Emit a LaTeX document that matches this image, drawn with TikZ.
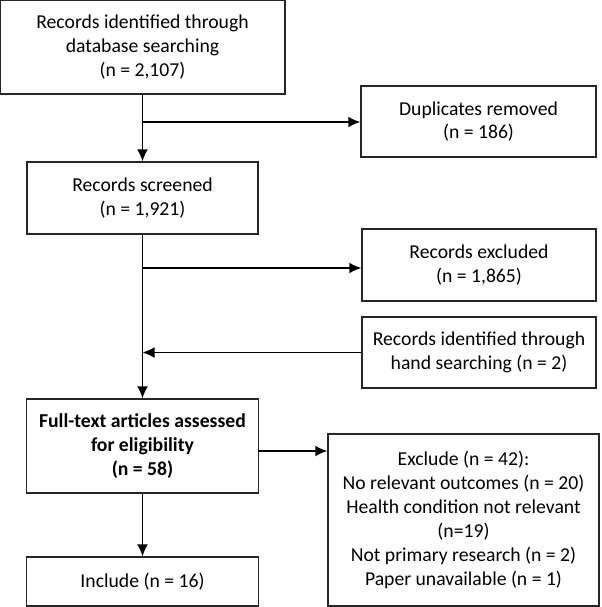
\documentclass[tikz,border=0pt]{standalone}
\usepackage{fontspec}
\setmainfont{Carlito}
\usetikzlibrary{arrows.meta,positioning}
\tikzset{
flow/.style={>={Latex[length=3mm,width=2.7mm]},line width=1pt,x=0.025cm,y=-0.025cm},
box/.style={rectangle,draw=black!85,line width=0.9pt,align=center,
    inner sep=2pt,font=\fontsize{14}{17}\selectfont},
wide/.style={box,minimum width=#1},
}

\begin{document}
\begin{tikzpicture}[flow]
    \useasboundingbox (0,0) rectangle (601,607);

    \node[wide=7.125cm,minimum height=2.35cm] (ident) at (142.5,47) {Records identified through\\database searching\\(n = 2,107)};
    \node[wide=5.875cm,minimum height=1.775cm] (dupl) at (478.5,121.5) {Duplicates removed\\(n = 186)};
    \node[wide=5.775cm,minimum height=1.8cm] (screen) at (142.5,198) {Records screened\\(n = 1,921)};
    \node[wide=5.85cm,minimum height=1.8cm] (excl) at (479,265) {Records excluded\\(n = 1,865)};
    \node[wide=5.85cm,minimum height=1.775cm] (hand) at (479,352.5) {Records identified through\\hand searching (n = 2)};
    \node[wide=5.8cm,minimum height=2.35cm] (full) at (142.5,446) {\bfseries Full-text articles assessed\\\bfseries for eligibility\\\bfseries (n = 58)};
    \node[wide=6.775cm,minimum height=4.3cm] (exclude) at (463.5,520) {Exclude (n = 42):\\No relevant outcomes (n = 20)\\Health condition not relevant\\(n=19)\\Not primary research (n = 2)\\Paper unavailable (n = 1)};
    \node[wide=5.8cm,minimum height=1.225cm] (include) at (142.5,581.5) {Include (n = 16)};

    \coordinate (j1) at (142.5,122);
    \coordinate (j2) at (142.5,268);
    \coordinate (j3) at (142.5,352.5);
    \coordinate (j4) at (258,451);

    \draw[->] (ident) -- (screen);
    \draw[->] (j1) -- (dupl.west |- j1);
    \draw[->] (screen) -- (full);
    \draw[->] (j2) -- (excl.west |- j2);
    \draw[->] (hand.west) -- (j3);
    \draw[->] (j4) -- (exclude.west |- j4);
    \draw[->] (full) -- (include);
\end{tikzpicture}
\end{document}
